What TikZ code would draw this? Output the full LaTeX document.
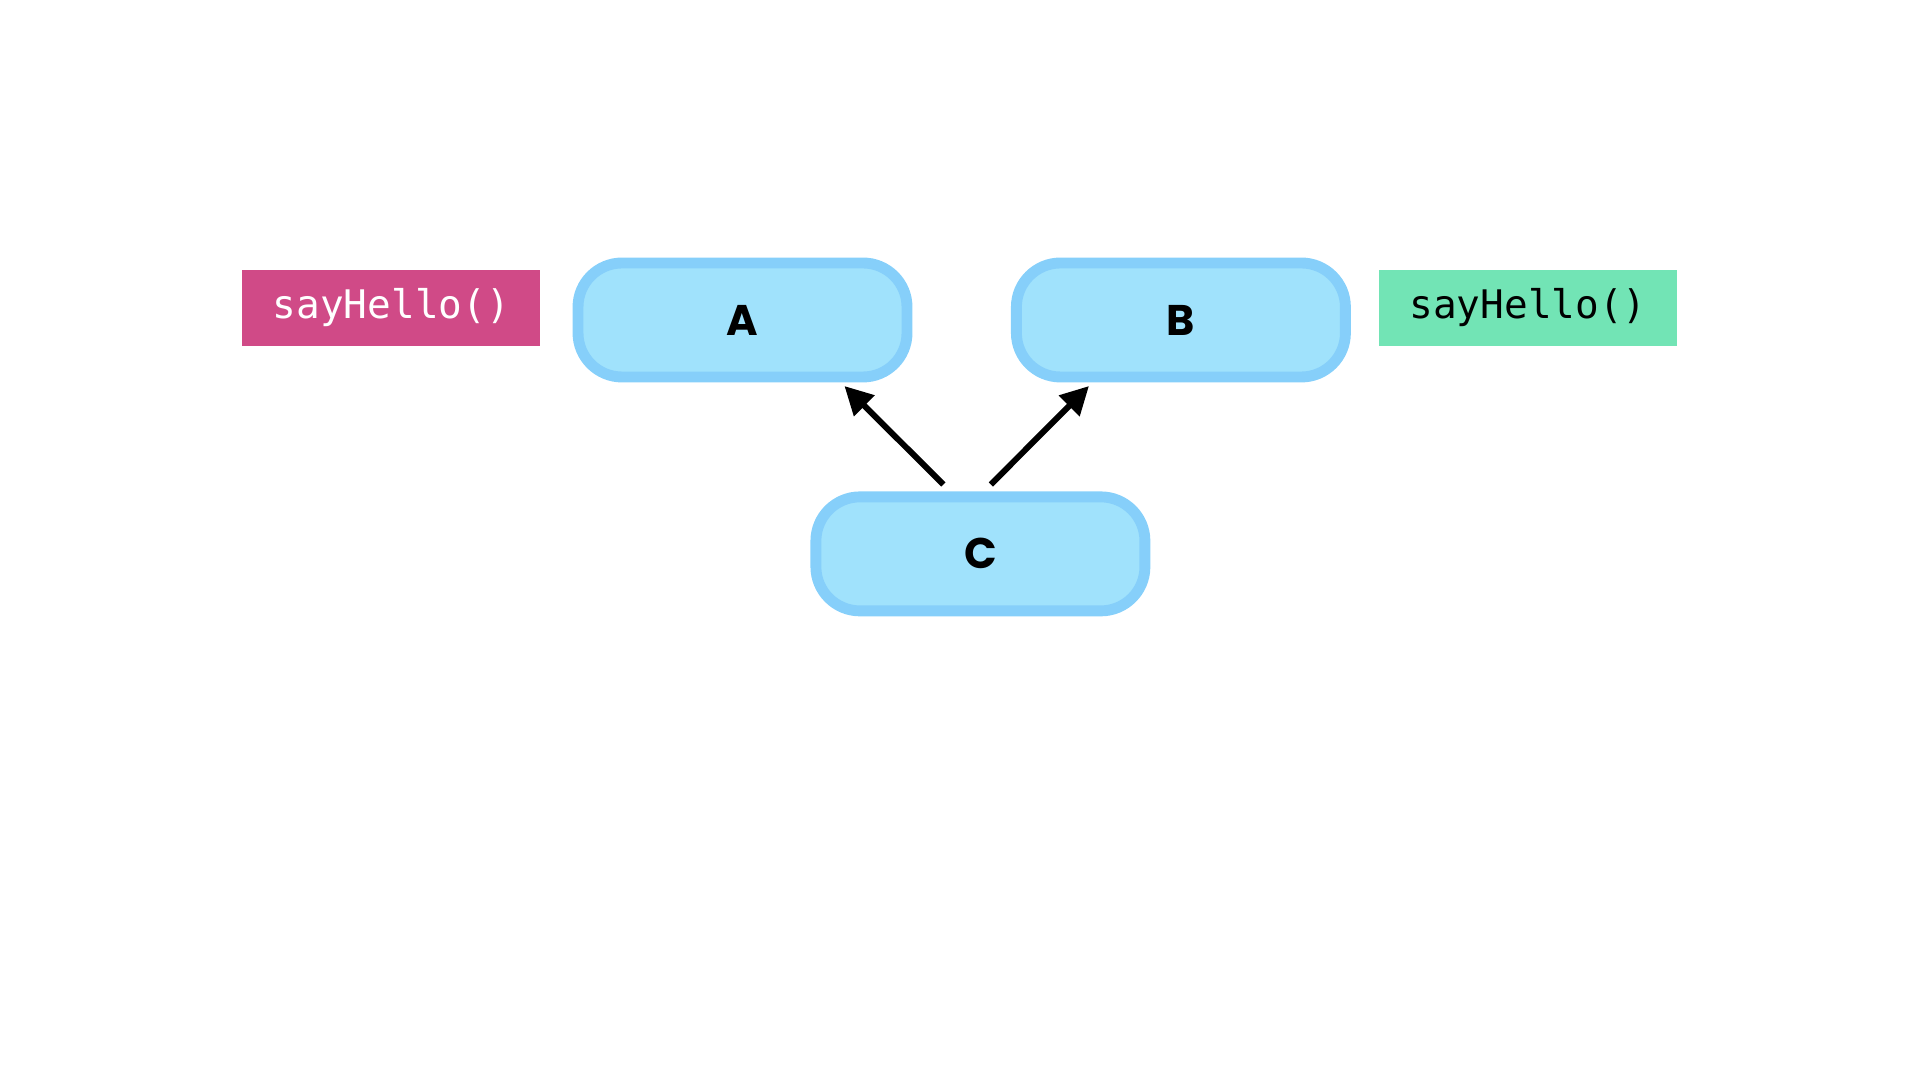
\documentclass[tikz,border=0pt]{standalone}
\usepackage{fontspec}
\setmainfont{Poppins}
\setmonofont{DejaVu Sans Mono}
\usepackage{tikz}
\usetikzlibrary{arrows.meta,positioning}

\definecolor{boxfill}{HTML}{A0E2FC}
\definecolor{boxline}{HTML}{86CFFA}
\definecolor{hellopink}{HTML}{D04A87}
\definecolor{hellogreen}{HTML}{72E4B5}

\begin{document}
\begin{tikzpicture}[
		node distance=3mm,
		class/.style={rectangle, rounded corners=4.4mm, draw=boxline, fill=boxfill, line width=3.1pt, minimum width=32.9mm, minimum height=11.4mm, inner sep=0pt, font=\fontsize{12.2pt}{14pt}\selectfont\bfseries},
		method/.style={rectangle, minimum width=29.8mm, minimum height=7.6mm, inner sep=0pt, font=\fontsize{11.2pt}{13pt}\selectfont\ttfamily}
	]
		\path[use as bounding box] (0,0) rectangle (19.2,10.8);
		\node[class](a) at (7.425,7.6){A};
		\node[class](b)[right=9.85mm of a]{B};
		\node[class](c)[below right=10.9mm and -10.2mm of a]{C};
		
		\node[method, fill=hellopink, text=white](hello-a)[left=3.15mm of a, yshift=1.2mm]{sayHello()};
		\node[method, fill=hellogreen, text=black](hello-b)[right=2.75mm of b, yshift=1.2mm]{sayHello()};
		
		\draw[line width=1.7pt, -{Triangle[length=8pt,width=8pt]}]([xshift=-3.7mm,yshift=0.7mm]c.north) -- ([xshift=-6.8mm,yshift=-0.36mm]a.south east);
		\draw[line width=1.7pt, -{Triangle[length=8pt,width=8pt]}]([xshift=1.05mm,yshift=0.7mm]c.north) -- ([xshift=7.8mm,yshift=-0.36mm]b.south west);
	\end{tikzpicture}
\end{document}
